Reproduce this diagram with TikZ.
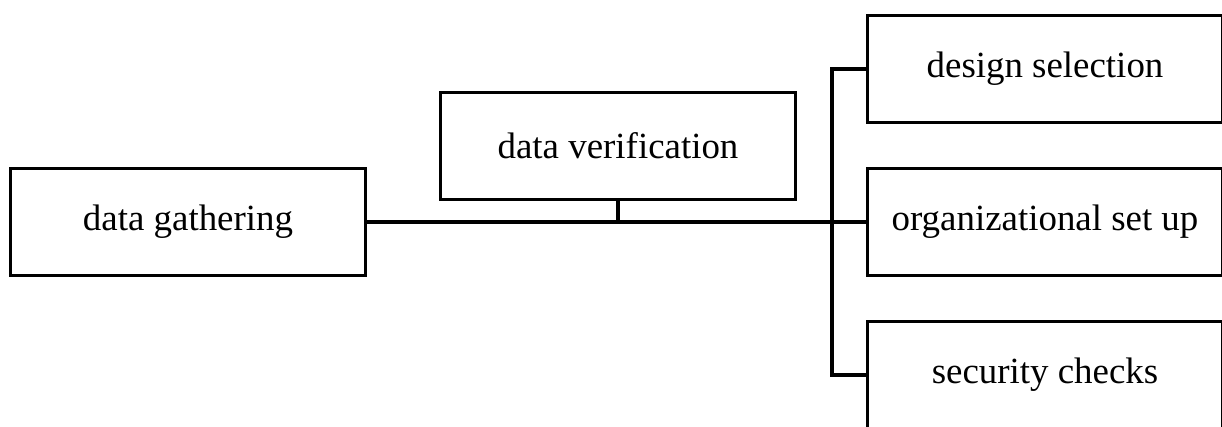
\documentclass[tikz,border=0pt]{standalone}
\usepackage{fontspec}
\setmainfont{Liberation Serif}
\begin{document}
\begin{tikzpicture}[x=0.02cm,y=-0.02cm,
    stage/.style={draw, line width=1.8pt, minimum width=7.1cm, minimum height=2.13cm,
      inner sep=0pt, font=\fontsize{21}{25}\selectfont},
    link/.style={line width=1.8pt}]
    \clip (0,0) rectangle (1222,426);
    \node[stage] (gather) at (188,222) {data gathering};
    \node[stage] (verify) at (618,146) {data verification};
    \node[stage] (design) at (1045,69) {design selection};
    \node[stage] (org) at (1045,222) {organizational set up};
    \node[stage] (secure) at (1045,375) {security checks};
    % connectors
    \draw[link] (gather.east) -- (org.west);
    \draw[link] (verify.south) -- (verify.south |- gather.east);
    \draw[link] (design.west) -- ++(-34,0) |- (secure.west);
\end{tikzpicture}
\end{document}
